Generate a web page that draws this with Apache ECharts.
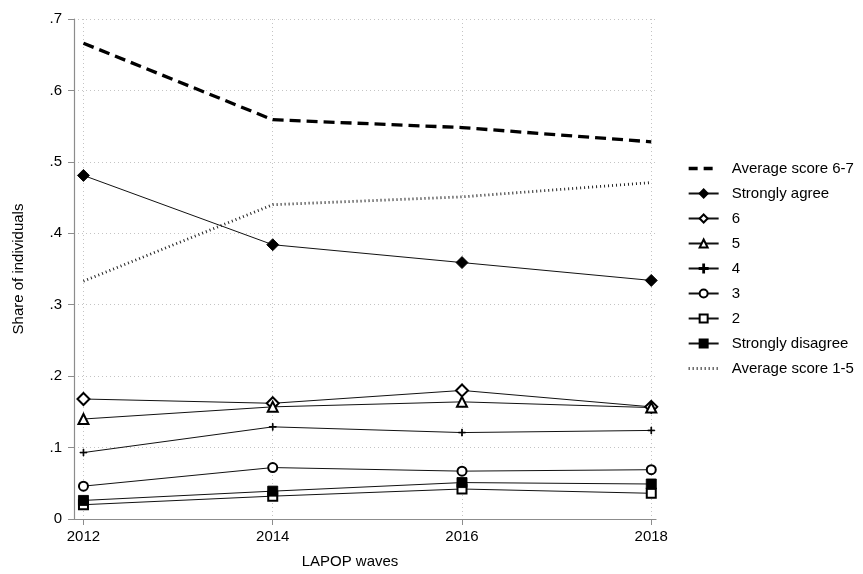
<!DOCTYPE html>
<html>
<head>
<meta charset="utf-8">
<script src="https://cdn.jsdelivr.net/npm/echarts@6/dist/echarts.min.js"></script>
<style>
html,body{margin:0;padding:0;background:#fff;}
#chart{width:863px;height:574px;}
</style>
</head>
<body>
<div id="chart"></div>
<script>
var years = [2012, 2014, 2016, 2018];
var yTicks = [0, 0.1, 0.2, 0.3, 0.4, 0.5, 0.6, 0.7];
var yTickLabels = ['0', '.1', '.2', '.3', '.4', '.5', '.6', '.7'];

var avg67 = [0.666, 0.559, 0.548, 0.528];
var stronglyAgree = [0.481, 0.384, 0.359, 0.334];
var score6 = [0.168, 0.162, 0.180, 0.157];
var score5 = [0.140, 0.157, 0.164, 0.156];
var score4 = [0.093, 0.129, 0.121, 0.124];
var score3 = [0.046, 0.072, 0.067, 0.069];
var score2 = [0.020, 0.032, 0.042, 0.036];
var stronglyDisagree = [0.026, 0.039, 0.051, 0.049];
var avg15 = [0.333, 0.440, 0.451, 0.471];

var seriesNames = ['Average score 6-7', 'Strongly agree', '6', '5', '4', '3', '2', 'Strongly disagree', 'Average score 1-5'];

function pairs(arr) { return years.map(function (y, i) { return [y, arr[i]]; }); }

var FONT = 'Liberation Sans, Arial, sans-serif';
var plusPath = 'path://M4.5,0H5.5V4.5H10V5.5H5.5V10H4.5V5.5H0V4.5H4.5Z';

var dashStyle = { color: '#000', width: 3.3, type: [11, 6] };
var dotStyle = { color: '#222', width: 2.8, type: [1, 3] };

function solid(name, data, symbol, size) {
  return {
    name: name, type: 'line', data: pairs(data),
    symbol: symbol, symbolSize: size, showSymbol: true,
    lineStyle: { color: '#111', width: 1 },
    itemStyle: { color: '#000', borderColor: '#000', borderWidth: 0.9 },
    emphasis: { disabled: true }, animation: false
  };
}

var series = [
  {
    name: seriesNames[0], type: 'line', data: pairs(avg67),
    symbol: 'circle', showSymbol: false, symbolSize: 0,
    lineStyle: dashStyle,
    itemStyle: { color: 'rgba(0,0,0,0)', borderWidth: 0, opacity: 0 },
    emphasis: { disabled: true }, animation: false
  },
  solid(seriesNames[1], stronglyAgree, 'diamond', 12),
  solid(seriesNames[2], score6, 'emptyDiamond', 12),
  solid(seriesNames[3], score5, 'emptyTriangle', 10),
  solid(seriesNames[4], score4, plusPath, 7),
  solid(seriesNames[5], score3, 'emptyCircle', 9),
  solid(seriesNames[6], score2, 'emptyRect', 9),
  solid(seriesNames[7], stronglyDisagree, 'rect', 10),
  {
    name: seriesNames[8], type: 'line', data: pairs(avg15),
    symbol: 'circle', showSymbol: false, symbolSize: 0,
    lineStyle: dotStyle,
    itemStyle: { color: 'rgba(0,0,0,0)', borderWidth: 0, opacity: 0 },
    emphasis: { disabled: true }, animation: false
  }
];

var legendData = seriesNames.map(function (n, i) {
  if (i === 0) return { name: n, lineStyle: { color: '#000', width: 3.3, type: [9, 6] } };
  if (i === 8) return { name: n, lineStyle: { color: '#222', width: 2.8, type: [1, 3] } };
  return { name: n };
});

var chart = echarts.init(document.getElementById('chart'), null, { renderer: 'canvas' });
chart.setOption({
  animation: false,
  backgroundColor: '#fff',
  textStyle: { fontFamily: FONT },
  grid: { left: 74, right: 207, top: 19, bottom: 53, containLabel: false },
  xAxis: {
    type: 'value', min: 2011.9, max: 2018.05,
    name: 'LAPOP waves', nameLocation: 'middle', nameGap: 35,
    nameTextStyle: { fontSize: 15, color: '#000', fontFamily: FONT, padding: [0, 30, 0, 0] },
    axisLine: { show: true, lineStyle: { color: '#8c8c8c', width: 1.2 } },
    axisTick: { show: true, length: 6, customValues: years, lineStyle: { color: '#8c8c8c' } },
    axisLabel: {
      customValues: years, fontSize: 15, color: '#000', margin: 10, fontFamily: FONT,
      formatter: function (v) { return String(Math.round(v)); }
    },
    splitLine: { show: true, lineStyle: { color: '#c4c4c4', width: 1, type: [1, 3] } }
  },
  yAxis: {
    type: 'value', min: 0, max: 0.7, interval: 0.1,
    name: 'Share of individuals', nameLocation: 'middle', nameGap: 48, nameRotate: 90,
    nameTextStyle: { fontSize: 15, color: '#000', fontFamily: FONT },
    axisLine: { show: true, lineStyle: { color: '#8c8c8c', width: 1.2 } },
    axisTick: { show: true, length: 6, lineStyle: { color: '#8c8c8c' } },
    axisLabel: {
      fontSize: 15, color: '#000', margin: 12, fontFamily: FONT,
      formatter: function (v) {
        var i = yTicks.findIndex(function (t) { return Math.abs(t - v) < 1e-6; });
        return i >= 0 ? yTickLabels[i] : '';
      }
    },
    splitLine: { show: true, lineStyle: { color: '#c4c4c4', width: 1, type: [1, 3] } }
  },
  legend: {
    show: true, orient: 'vertical', left: 682, top: 156,
    itemWidth: 30, itemHeight: 10, itemGap: 10,
    data: legendData,
    textStyle: { fontSize: 15, color: '#000', fontFamily: FONT, lineHeight: 15, padding: [0, 0, 0, 8] },
    selectedMode: false
  },
  series: series
});
</script>
</body>
</html>
